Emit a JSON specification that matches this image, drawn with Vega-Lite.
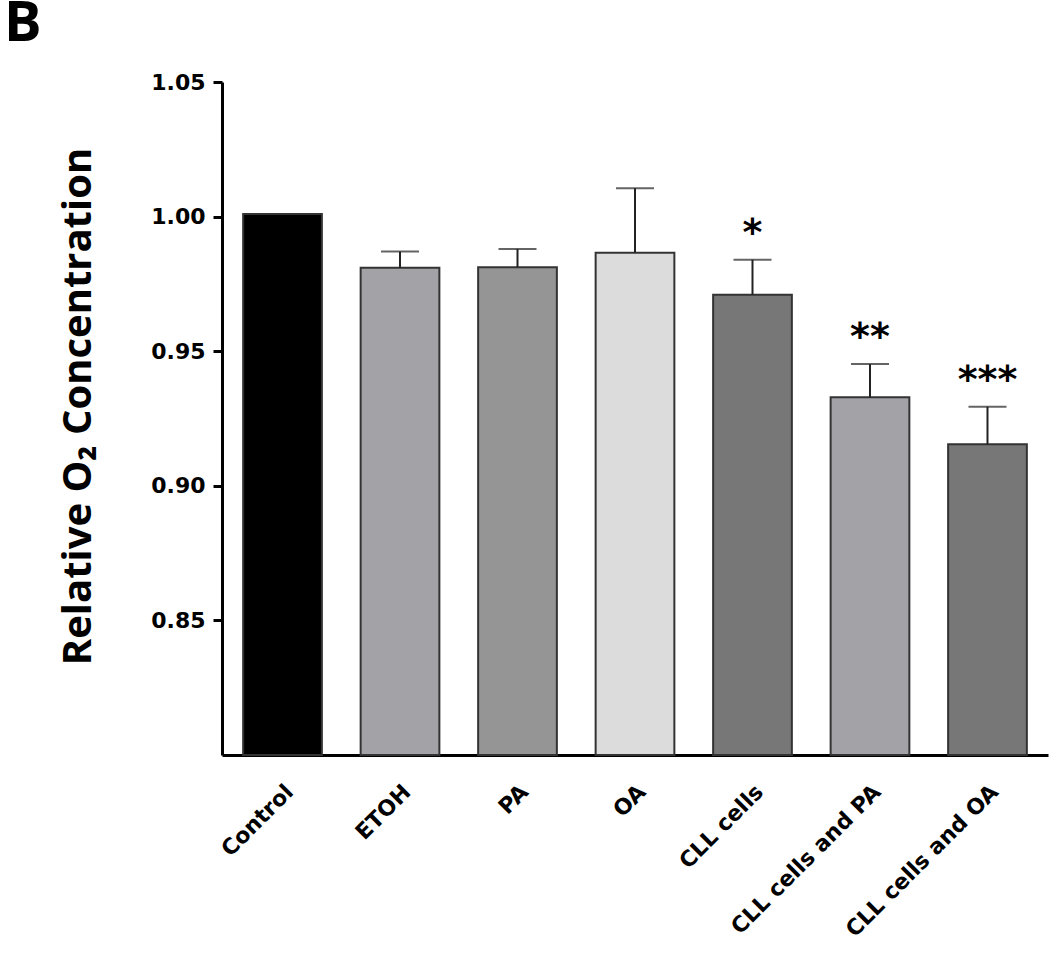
{
  "$schema": "https://vega.github.io/schema/vega-lite/v6.json",
  "autosize": "none",
  "width": 826,
  "height": 673,
  "padding": {"left": 222, "top": 82, "right": 2, "bottom": 220},
  "background": "white",
  "title": {
    "text": "B",
    "anchor": "start",
    "frame": "group",
    "dx": -218,
    "offset": 18,
    "font": "Open Sans",
    "fontWeight": "bold",
    "fontSize": 56,
    "color": "black"
  },
  "config": {
    "view": {"stroke": null},
    "axis": {"grid": false}
  },
  "data": {
    "values": [
      {"group": "Control", "value": 1.001, "upper": null, "sig": ""},
      {"group": "ETOH", "value": 0.981, "upper": 0.987, "sig": ""},
      {"group": "PA", "value": 0.9812, "upper": 0.988, "sig": ""},
      {"group": "OA", "value": 0.9866, "upper": 1.0105, "sig": ""},
      {"group": "CLL cells", "value": 0.971, "upper": 0.984, "sig": "*"},
      {"group": "CLL cells and PA", "value": 0.9329, "upper": 0.9452, "sig": "**"},
      {"group": "CLL cells and OA", "value": 0.9154, "upper": 0.9294, "sig": "***"}
    ]
  },
  "encoding": {
    "x": {
      "field": "group",
      "type": "nominal",
      "sort": ["Control", "ETOH", "PA", "OA", "CLL cells", "CLL cells and PA", "CLL cells and OA"],
      "scale": {"paddingInner": 0.33, "paddingOuter": 0.18},
      "axis": {
        "title": null,
        "ticks": false,
        "domainColor": "black",
        "domainWidth": 3,
        "labelAngle": -45,
        "labelAlign": "right",
        "labelBaseline": "top",
        "labelFont": "DejaVu Sans",
        "labelFontWeight": "bold",
        "labelFontSize": 22,
        "labelColor": "black",
        "labelPadding": 26,
        "labelLimit": 400
      }
    }
  },
  "layer": [
    {
      "mark": {"type": "bar", "stroke": "#333333", "strokeWidth": 2},
      "encoding": {
        "y": {
          "field": "value",
          "type": "quantitative",
          "scale": {"domain": [0.8, 1.05], "nice": false, "zero": false, "clamp": true},
          "axis": {
            "title": "Relative O₂ Concentration",
            "titleFont": "Open Sans",
            "titleFontWeight": "bold",
            "titleFontSize": 40,
            "titleColor": "black",
            "titleX": -132,
            "titleY": 324,
            "titleBaseline": "alphabetic",
            "titleAlign": "center",
            "titleAngle": -90,
            "values": [0.85, 0.9, 0.95, 1.0, 1.05],
            "format": ".2f",
            "domainColor": "black",
            "domainWidth": 3,
            "tickColor": "black",
            "tickWidth": 3,
            "tickSize": 9,
            "labelFont": "DejaVu Sans",
            "labelFontWeight": "bold",
            "labelFontSize": 22,
            "labelColor": "black",
            "labelPadding": 8
          }
        },
        "y2": {"datum": 0.8},
        "color": {
          "field": "group",
          "type": "nominal",
          "legend": null,
          "scale": {
            "domain": ["Control", "ETOH", "PA", "OA", "CLL cells", "CLL cells and PA", "CLL cells and OA"],
            "range": ["#000000", "#a3a2a7", "#959595", "#dcdcdc", "#777777", "#a3a2a7", "#777777"]
          }
        }
      }
    },
    {
      "transform": [{"filter": "datum.upper != null"}],
      "mark": {"type": "rule", "color": "#222222", "strokeWidth": 2},
      "encoding": {
        "y": {"field": "value", "type": "quantitative"},
        "y2": {"field": "upper"}
      }
    },
    {
      "transform": [{"filter": "datum.upper != null"}],
      "mark": {"type": "tick", "color": "#222222", "thickness": 2, "size": 38, "orient": "horizontal"},
      "encoding": {
        "y": {"field": "upper", "type": "quantitative"}
      }
    },
    {
      "transform": [{"filter": "datum.sig != ''"}],
      "mark": {"type": "text", "font": "DejaVu Sans", "fontWeight": "bold", "fontSize": 38, "baseline": "middle", "dy": -26, "color": "black"},
      "encoding": {
        "y": {"field": "upper", "type": "quantitative"},
        "text": {"field": "sig"}
      }
    }
  ]
}
